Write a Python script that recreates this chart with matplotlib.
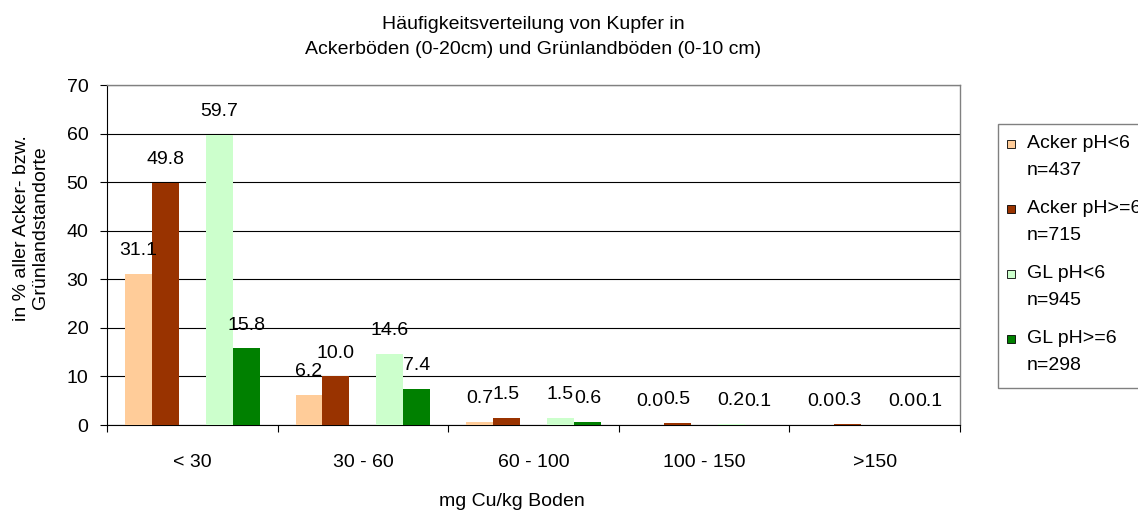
import matplotlib
matplotlib.use("Agg")
import matplotlib.pyplot as plt
from matplotlib.patches import Rectangle
import numpy as np

plt.rcParams["font.family"] = ["Liberation Sans", "DejaVu Sans"]
plt.rcParams["font.size"] = 14

CATEGORIES = ["< 30", "30 - 60", "60 - 100", "100 - 150", ">150"]
SERIES = ["Acker pH<6", "Acker pH>=6", "GL pH<6", "GL pH>=6"]
COUNTS = ["n=437", "n=715", "n=945", "n=298"]
COLORS = ["#FFCC99", "#993300", "#CCFFCC", "#008000"]

acker_low = [31.1, 6.2, 0.7, 0.0, 0.0]
acker_high = [49.8, 10.0, 1.5, 0.5, 0.3]
gl_low = [59.7, 14.6, 1.5, 0.2, 0.0]
gl_high = [15.8, 7.4, 0.6, 0.1, 0.1]
VALUES = [acker_low, acker_high, gl_low, gl_high]

W, H = 1138, 511


def px(x, y):
    """pixel position (from top left) -> figure fraction"""
    return x / W, 1 - y / H


fig = plt.figure(figsize=(W / 100, H / 100), dpi=100)
x0, y0 = px(107, 425)
x1, y1 = px(960, 85)
ax = fig.add_axes([x0, y0, x1 - x0, y1 - y0])

# 5 slots per category, middle slot left empty (as in the original)
slots = [0, 1, 3, 4]
bw = 0.158
start = (1 - 5 * bw) / 2
idx = np.arange(len(CATEGORIES))
for vals, slot, color in zip(VALUES, slots, COLORS):
    xs = idx + start + slot * bw + bw / 2
    ax.bar(xs, vals, width=bw, color=color, edgecolor="none", zorder=3)
    for xv, v in zip(xs, vals):
        ax.annotate(f"{v:.1f}", (xv, v), xytext=(0, 13.5),
                    textcoords="offset points", ha="center", va="baseline",
                    fontsize=14, zorder=4)

ax.set_xlim(0, len(CATEGORIES))
ax.set_ylim(0, 70)
ax.set_yticks(np.arange(0, 71, 10))
ax.yaxis.grid(True, color="black", linewidth=0.8, zorder=0)
ax.set_axisbelow(True)

ax.set_xticks(np.arange(0, len(CATEGORIES) + 1))
ax.set_xticklabels([])
ax.set_xticks(idx + 0.5, minor=True)
ax.set_xticklabels(CATEGORIES, minor=True)
ax.tick_params(axis="x", which="major", direction="out", length=5, width=0.8)
ax.tick_params(axis="x", which="minor", length=0, pad=21)
ax.tick_params(axis="y", direction="out", length=5, width=0.8, pad=8.5)

for side in ["top", "right"]:
    ax.spines[side].set_color("#808080")
    ax.spines[side].set_linewidth(1.0)
for side in ["left", "bottom"]:
    ax.spines[side].set_color("black")
    ax.spines[side].set_linewidth(0.8)

# title and axis labels
tx, ty = px(533, 37)
fig.text(tx, ty, "Häufigkeitsverteilung von Kupfer in\n"
         "Ackerböden (0-20cm) und Grünlandböden (0-10 cm)",
         ha="center", va="center", linespacing=1.55)
lx, ly = px(31, 228)
fig.text(lx, ly, "in % aller Acker- bzw.\nGrünlandstandorte",
         rotation=90, ha="center", va="center", linespacing=1.2)
xx, xy = px(512, 502)
fig.text(xx, xy, "mg Cu/kg Boden", ha="center", va="center")

# legend drawn by hand so the swatch sits on the first label line
bx, by = px(998, 388)
bx2, by2 = px(1160, 124)
fig.patches.append(Rectangle((bx, by), bx2 - bx, by2 - by,
                             transform=fig.transFigure, facecolor="white",
                             edgecolor="#808080", linewidth=1.0))
for k, (name, n, color) in enumerate(zip(SERIES, COUNTS, COLORS)):
    top = 140 + 65 * k
    sx, sy = px(1007, top + 8)
    sw = 8 / W
    sh = 8 / H
    fig.patches.append(Rectangle((sx, sy), sw, sh, transform=fig.transFigure,
                                 facecolor=color, edgecolor="black",
                                 linewidth=0.6))
    t1x, t1y = px(1027, top + 8)
    fig.text(t1x, t1y, name, ha="left", va="baseline")
    t2x, t2y = px(1027, top + 35)
    fig.text(t2x, t2y, n, ha="left", va="baseline")

fig.savefig("out.png", dpi=100)
